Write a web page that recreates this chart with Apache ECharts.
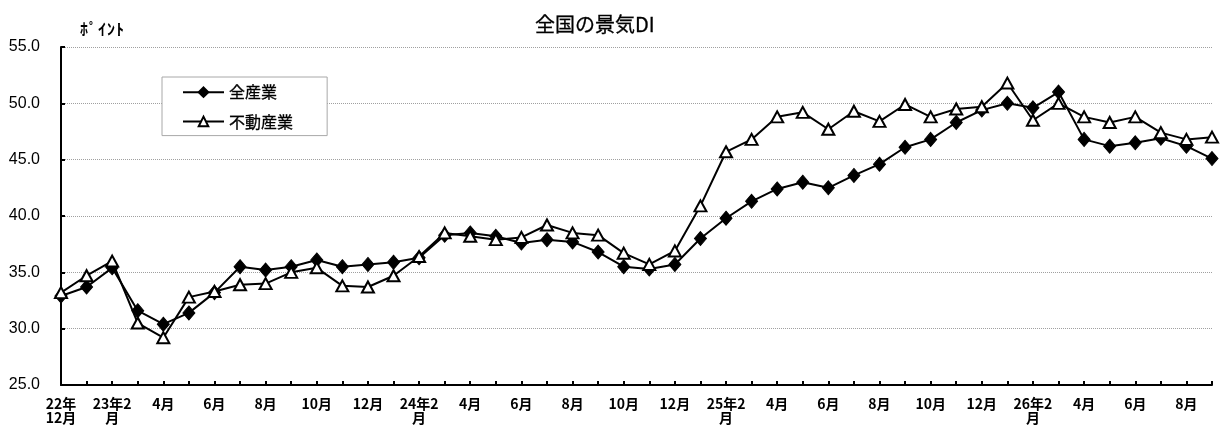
<!DOCTYPE html>
<html>
<head>
<meta charset="utf-8">
<script src="https://cdn.jsdelivr.net/npm/echarts@6/dist/echarts.min.js"></script>
<style>
  html, body { margin: 0; padding: 0; background: #fff; }
  #chart { width: 1222px; height: 427px; }
</style>
</head>
<body>
<div id="chart"></div>
<script>
// Months from Dec 2022 to Sep 2026; every other label is shown on the axis
const months = [
  "22年\n12月", "1月", "23年2\n月", "3月", "4月", "5月", "6月", "7月", "8月", "9月", "10月", "11月", "12月",
  "1月", "24年2\n月", "3月", "4月", "5月", "6月", "7月", "8月", "9月", "10月", "11月", "12月",
  "1月", "25年2\n月", "3月", "4月", "5月", "6月", "7月", "8月", "9月", "10月", "11月", "12月",
  "1月", "26年2\n月", "3月", "4月", "5月", "6月", "7月", "8月", "9月"
];

// 全産業 DI
const allIndustry = [
  32.9, 33.7, 35.4, 31.6, 30.4, 31.4, 33.2, 35.5, 35.2, 35.5, 36.1, 35.5, 35.7,
  35.9, 36.3, 38.3, 38.5, 38.2, 37.6, 37.9, 37.7, 36.8, 35.5, 35.3, 35.7,
  38.0, 39.8, 41.3, 42.4, 43.0, 42.5, 43.6, 44.6, 46.1, 46.8, 48.3, 49.4,
  50.0, 49.6, 51.0, 46.8, 46.2, 46.5, 46.9, 46.2, 45.1
];

// 不動産業 DI
const realEstate = [
  33.2, 34.7, 36.0, 30.5, 29.2, 32.8, 33.3, 33.9, 34.0, 35.0, 35.4, 33.8, 33.7,
  34.7, 36.4, 38.5, 38.2, 37.9, 38.1, 39.2, 38.5, 38.3, 36.7, 35.7, 36.9,
  40.9, 45.7, 46.8, 48.8, 49.2, 47.7, 49.3, 48.4, 49.9, 48.8, 49.5, 49.7,
  51.8, 48.5, 50.0, 48.8, 48.3, 48.8, 47.4, 46.8, 47.0
];

const yTicks = { min: 25, max: 55, step: 5 };

// Unit caption above the value axis, set in spaced half-width kana
const unitChars = ['ﾎ', 'ﾟ', 'ｲ', 'ﾝ', 'ﾄ'];

const chart = echarts.init(document.getElementById('chart'), null, { renderer: 'canvas' });

const jpFont = '"Noto Sans CJK JP", sans-serif';
const numFont = '"Liberation Sans", Arial, sans-serif';

chart.setOption({
  animation: false,
  backgroundColor: '#ffffff',
  title: {
    text: '全国の景気DI',
    left: 530,
    top: 9,
    textStyle: { fontFamily: jpFont, fontSize: 20, fontWeight: 'normal', color: '#000',
                 textBorderColor: '#000', textBorderWidth: 0.3 }
  },
  graphic: [{
    type: 'group',
    left: 80,
    top: 21,
    children: unitChars.map((ch, i) => ({
      type: 'text',
      x: i * 9,
      y: 0,
      style: { text: ch, font: 'bold 16px "Noto Sans CJK JP", sans-serif', fill: '#000' }
    }))
  }],
  legend: {
    orient: 'vertical',
    left: 162,
    top: 77,
    padding: [7, 34, 6, 20],
    itemGap: 13,
    itemWidth: 41,
    itemHeight: 12,
    borderColor: '#a8a8a8',
    borderWidth: 1,
    backgroundColor: '#fff',
    textStyle: { fontFamily: jpFont, fontSize: 16, color: '#000',
                 textBorderColor: '#000', textBorderWidth: 0.3 },
    data: ['全産業', '不動産業']
  },
  grid: { left: 61, right: 10, top: 47, bottom: 42, containLabel: false },
  xAxis: {
    type: 'category',
    boundaryGap: false,
    data: months,
    axisLine: { lineStyle: { color: '#000', width: 2 } },
    axisTick: { inside: true, length: 4, interval: 0, lineStyle: { color: '#000', width: 2 } },
    axisLabel: {
      interval: 1,
      margin: 12,
      fontFamily: jpFont,
      fontSize: 14,
      fontWeight: 'bold',
      lineHeight: 14,
      color: '#000'
    },
    splitLine: { show: false }
  },
  yAxis: {
    type: 'value',
    min: yTicks.min,
    max: yTicks.max,
    interval: yTicks.step,
    axisLine: { show: true, lineStyle: { color: '#000', width: 2 } },
    axisTick: { show: true, inside: true, length: 4, lineStyle: { color: '#000', width: 2 } },
    axisLabel: {
      margin: 21,
      fontFamily: numFont,
      fontSize: 16,
      color: '#000',
      formatter: v => v.toFixed(1)
    },
    splitLine: { show: true, lineStyle: { color: '#a0a0a0', width: 1, type: [1, 1] } }
  },
  series: [
    {
      name: '全産業',
      type: 'line',
      data: allIndustry,
      symbol: 'diamond',
      symbolSize: [12, 14],
      lineStyle: { color: '#000', width: 2 },
      itemStyle: { color: '#000', borderColor: '#000', borderWidth: 1 },
      z: 3
    },
    {
      name: '不動産業',
      type: 'line',
      data: realEstate,
      symbol: 'triangle',
      symbolSize: [12, 11],
      lineStyle: { color: '#000', width: 2 },
      itemStyle: { color: '#fff', borderColor: '#000', borderWidth: 2 },
      z: 4
    }
  ]
});
</script>
</body>
</html>
